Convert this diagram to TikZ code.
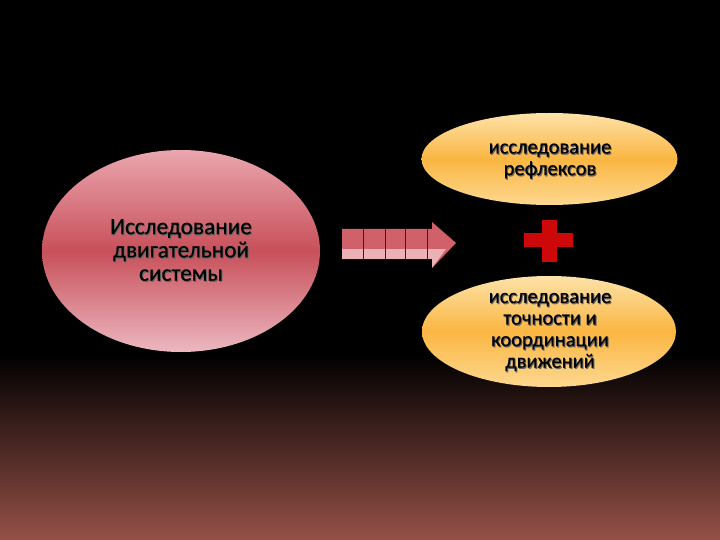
\documentclass[tikz,border=0pt]{standalone}
\usepackage{fontspec}
\setmainfont{Carlito}[FakeBold=0.6]
\begin{document}
\begin{tikzpicture}[x=1pt,y=-1pt,
  lbl/.style={align=center,text=black,inner sep=0pt},
  shad/.style={align=center,text=black!60,inner sep=0pt},
  bigfont/.style={font=\fontsize{23.3}{23.3}\selectfont},
  smallfont/.style={font=\fontsize{20.5}{21.6}\selectfont},
  pinkell/.style={draw=none,top color=pinkL,bottom color=pinkL2,middle color=pinkM},
  orangeell/.style={draw=none,top color=orL,bottom color=orL2,middle color=orM},
  cellline/.style={draw=black!85,line width=0.8pt}]
\definecolor{pinkL}{HTML}{EAA6AE}
\definecolor{pinkM}{HTML}{C8505A}
\definecolor{pinkL2}{HTML}{ECB8C0}
\definecolor{orL}{HTML}{FDE2A8}
\definecolor{orM}{HTML}{FBB642}
\definecolor{orL2}{HTML}{FDD890}
\definecolor{arrTop}{HTML}{D0606A}
\definecolor{arrBot}{HTML}{EAB2B4}
\definecolor{bgBot}{HTML}{965048}
\definecolor{plusred}{HTML}{CC0808}
\useasboundingbox (0,0) rectangle (720,540);
\fill[black] (0,0) rectangle (720,540);
\shade[top color=black,bottom color=bgBot] (0,355) rectangle (720,540);
% ellipses
\path[pinkell] (181,251) ellipse [x radius=139,y radius=101];
\path[orangeell] (549.5,159) ellipse [x radius=128,y radius=46];
\path[orangeell] (549,331.5) ellipse [x radius=127,y radius=55.5];
% texts
\node[shad,bigfont] at (182,251.2) {Исследование\\двигательной\\системы};
\node[lbl,bigfont] (L) at (181,250) {Исследование\\двигательной\\системы};
\node[shad,smallfont] at (551,162.2) {исследование\\рефлексов};
\node[lbl,smallfont] (T) at (550,161) {исследование\\рефлексов};
\node[shad,smallfont] at (551,333.2) {исследование\\точности и\\координации\\движений};
\node[lbl,smallfont] (B) at (550,332) {исследование\\точности и\\координации\\движений};
% arrow
\fill[arrTop] (342,229) -- (432,229) -- (432,222) -- (456,243) -- (432,268) -- (432,259) -- (342,259) -- cycle;
\fill[arrBot] (342,249) rectangle (432,259);
\fill[arrBot] (432,249) -- (446,249) -- (432,268) -- cycle;
\foreach \xx in {363,385,405,427}
  \draw[cellline] (\xx,229) -- (\xx,259);
% plus
\fill[plusred] (524,233) rectangle (573,247);
\fill[plusred] (542,220) rectangle (557,262);
\end{tikzpicture}
\end{document}
